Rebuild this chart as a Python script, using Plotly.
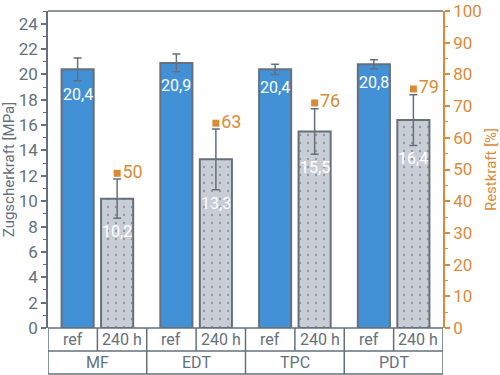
import numpy as np
import plotly.graph_objects as go

groups = ["MF", "EDT", "TPC", "PDT"]
sub_labels = ["ref", "240 h"]
ref_vals = [20.4, 20.9, 20.4, 20.8]
ref_err = [0.9, 0.7, 0.4, 0.35]
aged_vals = [10.2, 13.3, 15.5, 16.4]
aged_err = [1.55, 2.4, 1.8, 2.0]
restkraft = [50, 63, 76, 79]

GRAY = "#65707c"
BLUE = "#4291d6"
ORANGE = "#db8a38"
FONT = "Roboto, sans-serif"

idx = np.arange(len(groups))
off = 0.2
bw = 0.325

def fmt(v):
    return f"{v:.1f}".replace(".", ",")

fig = go.Figure()
fig.add_trace(go.Bar(
    x=idx - off, y=ref_vals, width=bw,
    marker=dict(color=BLUE, line=dict(color=GRAY, width=2)),
    error_y=dict(type="data", array=ref_err, color=GRAY, thickness=1.5, width=4),
    showlegend=False, hoverinfo="skip"))
fig.add_trace(go.Bar(
    x=idx + off, y=aged_vals, width=bw,
    marker=dict(color="#c9ced6", line=dict(color=GRAY, width=2),
                pattern=dict(shape=".", fgcolor="#929aa5", bgcolor="#c9ced6",
                             size=8, solidity=0.07, fillmode="replace")),
    error_y=dict(type="data", array=aged_err, color=GRAY, thickness=1.5, width=4),
    showlegend=False, hoverinfo="skip"))

# Restkraft labels
rk_y = [v + e + 0.45 for v, e in zip(aged_vals, aged_err)]
fig.add_trace(go.Scatter(
    x=idx + off, y=rk_y, mode="markers+text",
    marker=dict(symbol="square", size=7, color=ORANGE),
    text=[str(r) for r in restkraft], textposition="middle right",
    textfont=dict(color=ORANGE, size=18, family=FONT),
    showlegend=False, hoverinfo="skip", cliponaxis=False))

# value labels inside bars
for xs, vals, errs in [(idx - off, ref_vals, ref_err), (idx + off, aged_vals, aged_err)]:
    for x, v, e in zip(xs, vals, errs):
        fig.add_annotation(x=x, y=v - e, text=fmt(v), showarrow=False,
                           yanchor="top", yshift=-2, xanchor="center",
                           font=dict(color="white", size=16, family=FONT))

# dummy trace for secondary axis
fig.add_trace(go.Scatter(x=[None], y=[None], yaxis="y2", showlegend=False))

# category table
row = 23 / 317
shapes = []
line = dict(color=GRAY, width=1.5)
x0, x1 = -0.5, len(groups) - 0.5
for yy in [0, -row, -2 * row]:
    shapes.append(dict(type="line", xref="x", yref="paper", x0=x0, x1=x1, y0=yy, y1=yy, line=line))
shapes.append(dict(type="line", xref="x", yref="paper", x0=x0, x1=x1, y0=1, y1=1, line=line))
for b in np.arange(len(groups) + 1) - 0.5:
    shapes.append(dict(type="line", xref="x", yref="paper", x0=b, x1=b, y0=0, y1=-2 * row, line=line))
for c in idx:
    shapes.append(dict(type="line", xref="x", yref="paper", x0=c, x1=c, y0=0, y1=-row, line=line))
fig.update_layout(shapes=shapes)

for i, g in enumerate(groups):
    fig.add_annotation(x=i, y=-1.5 * row, xref="x", yref="paper", text=g, showarrow=False,
                       yanchor="middle", font=dict(color=GRAY, size=16, family=FONT))
    for j, s in enumerate(sub_labels):
        fig.add_annotation(x=i - 0.25 + 0.5 * j, y=-0.5 * row, xref="x", yref="paper", text=s,
                           yanchor="middle", showarrow=False,
                           font=dict(color=GRAY, size=16, family=FONT))

fig.update_layout(
    width=500, height=375,
    margin=dict(l=48, r=57, t=11, b=47),
    paper_bgcolor="white", plot_bgcolor="white",
    barmode="overlay",
    font=dict(family=FONT, color=GRAY),
    xaxis=dict(range=[x0, x1], showticklabels=False, showgrid=False, zeroline=False,
               ticks="", showline=False, automargin=False),
    yaxis=dict(range=[0, 25], tickvals=list(range(0, 25, 2)), showgrid=False, zeroline=False,
               showline=True, linecolor=GRAY, linewidth=1.5, ticks="outside", ticklen=5,
               tickcolor=GRAY, tickwidth=1.5, automargin=False,
               tickfont=dict(size=17, color=GRAY, family=FONT),
               minor=dict(dtick=1, ticks="outside", ticklen=3, tickcolor=GRAY, tickwidth=1),
               title=dict(text="Zugscherkraft [MPa]", font=dict(size=15, color=GRAY, family=FONT),
                          standoff=4)),
    yaxis2=dict(range=[0, 100], overlaying="y", side="right", tickvals=list(range(0, 101, 10)),
                showgrid=False, zeroline=False, showline=True, linecolor=ORANGE, linewidth=1.5,
                ticks="outside", ticklen=5, tickcolor=ORANGE, tickwidth=1.5, automargin=False,
                tickfont=dict(size=17, color=ORANGE, family=FONT),
                minor=dict(dtick=5, ticks="outside", ticklen=3, tickcolor=ORANGE, tickwidth=1),
                title=dict(text="Restkraft [%]", font=dict(size=15, color=ORANGE, family=FONT),
                           standoff=6)),
)

fig.write_html("out.html", config={"displayModeBar": False},
               post_script="document.body.style.margin='0';")
